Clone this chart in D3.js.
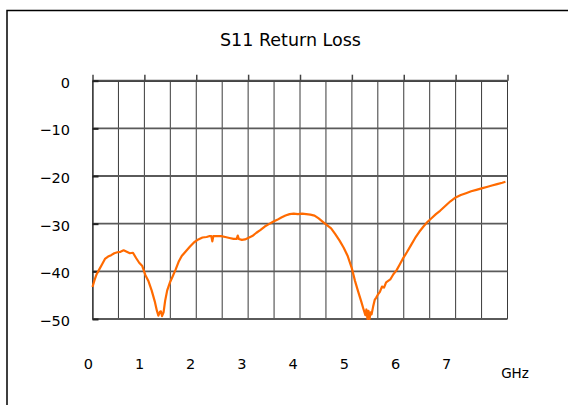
<!DOCTYPE html>
<html>
<head>
<meta charset="utf-8">
<script src="https://cdn.jsdelivr.net/npm/d3@7"></script>
<style>
  html, body { margin: 0; padding: 0; background: #fff; }
  svg { display: block; }
  text { font-family: "DejaVu Sans", "Liberation Sans", sans-serif; fill: #000; }
</style>
</head>
<body>
<svg id="chart" width="568" height="405"></svg>
<script>
const chartTitle = "S11 Return Loss";
const xUnit = "GHz";
const xTickValues = [0, 1, 2, 3, 4, 5, 6, 7, 8];
const xTickLabels = ["0", "1", "2", "3", "4", "5", "6", "7"];
const yTickValues = [0, -10, -20, -30, -40, -50];
const yTickLabels = ["0", "\u221210", "\u221220", "\u221230", "\u221240", "\u221250"];

const freqGHz = [0, 0.04, 0.08, 0.12, 0.18, 0.24, 0.3, 0.36, 0.42, 0.48, 0.54, 0.6, 0.66, 0.72, 0.78, 0.84, 0.9, 0.96,
  1.02, 1.08, 1.14, 1.2, 1.24, 1.27, 1.3, 1.32, 1.34, 1.37, 1.4, 1.44, 1.49, 1.54, 1.6, 1.66, 1.72, 1.8, 1.88, 1.96,
  2.04, 2.12, 2.2, 2.26, 2.29, 2.31, 2.33, 2.4, 2.48, 2.56, 2.64, 2.72, 2.78, 2.8, 2.82, 2.88, 2.94, 3.0,
  3.08, 3.16, 3.24, 3.32, 3.4, 3.48, 3.56, 3.64, 3.72, 3.8, 3.88, 3.96, 4.04, 4.12, 4.2, 4.28, 4.36, 4.44,
  4.52, 4.6, 4.68, 4.76, 4.84, 4.92, 5.0, 5.06, 5.12, 5.18, 5.22, 5.26, 5.28, 5.3, 5.32, 5.34, 5.36, 5.38,
  5.41, 5.44, 5.47, 5.5, 5.54, 5.58, 5.62, 5.66, 5.7, 5.74, 5.8, 5.86, 5.92, 5.98, 6.06, 6.14, 6.22, 6.3,
  6.38, 6.46, 6.54, 6.62, 6.7, 6.8, 6.9, 7.0, 7.1, 7.2, 7.3, 7.4, 7.5, 7.6, 7.7, 7.8, 7.9, 7.96];

const returnLossDb = [-43.3, -41.8, -40.6, -39.8, -38.6, -37.4, -36.9, -36.6, -36.2, -36.0, -35.9, -35.6, -35.9, -36.2, -36.1, -37.2, -38.2, -38.9,
  -40.8, -42.1, -44.0, -46.3, -48.2, -49.3, -48.5, -48.4, -49.4, -48.6, -46.2, -44.0, -42.4, -41.2, -39.7, -38.0, -36.8, -35.8, -34.8, -33.9,
  -33.3, -32.9, -32.8, -32.6, -32.6, -33.7, -32.6, -32.6, -32.6, -32.8, -33.0, -33.2, -33.2, -32.5, -33.2, -33.4, -33.3, -33.0,
  -32.6, -31.9, -31.3, -30.6, -30.1, -29.6, -29.2, -28.7, -28.3, -28.0, -27.9, -28.0, -27.9, -28.0, -28.1, -28.3, -28.9, -29.6,
  -30.3, -31.0, -32.2, -33.5, -35.0, -36.8, -39.4, -42.0, -44.2, -46.3, -47.8, -49.2, -48.0, -50.0, -48.3, -50.0, -48.6, -49.0,
  -47.4, -46.0, -45.5, -44.9, -44.3, -43.2, -43.4, -42.3, -42.0, -41.7, -40.6, -39.8, -38.6, -37.4, -36.0, -34.5, -33.0, -31.7,
  -30.6, -29.6, -28.8, -28.0, -27.3, -26.3, -25.3, -24.5, -24.0, -23.6, -23.2, -22.9, -22.6, -22.3, -22.0, -21.7, -21.4, -21.2];

const svg = d3.select("#chart");

// outer frame (extends beyond the visible window on right/bottom)
svg.append("rect")
  .attr("x", 7).attr("y", 10.5).attr("width", 640).attr("height", 500)
  .attr("fill", "none").attr("stroke", "#000").attr("stroke-width", 1.5);

const plot = { left: 92.5, right: 507.5, top: 80.7, bottom: 319 };
const x = d3.scaleLinear().domain([0, 8]).range([plot.left, plot.right]);
const y = d3.scaleLinear().domain([-50, 0]).range([plot.bottom, plot.top]);
// category-style label positions (labels sit slightly left of the gridlines)
const xLab = d3.scaleLinear().domain([0, 7]).range([88.3, 446.7]);

// vertical gridlines every 0.5 GHz
svg.append("g").selectAll("line")
  .data(d3.range(0, 8.01, 0.5))
  .join("line")
  .attr("x1", d => x(d)).attr("x2", d => x(d))
  .attr("y1", plot.top).attr("y2", plot.bottom)
  .attr("stroke", "#3a3a3a").attr("stroke-width", 1);

// horizontal gridlines
svg.append("g").selectAll("line")
  .data(yTickValues)
  .join("line")
  .attr("x1", plot.left).attr("x2", plot.right)
  .attr("y1", d => y(d)).attr("y2", d => y(d))
  .attr("stroke", "#5a5a5a").attr("stroke-width", 1.8);

// top axis with outward ticks
const topAxis = svg.append("g")
  .attr("transform", `translate(0,${plot.top})`)
  .call(d3.axisTop(x).tickValues(xTickValues).tickSize(6).tickSizeOuter(0).tickFormat(""));
topAxis.select(".domain").attr("stroke", "#444").attr("stroke-width", 1.5);
topAxis.selectAll(".tick line").attr("stroke", "#444").attr("stroke-width", 1.5);

// left axis with inward ticks
const leftAxis = svg.append("g")
  .attr("transform", `translate(${plot.left},0)`)
  .call(d3.axisRight(y).tickValues(yTickValues).tickSize(6).tickSizeOuter(0).tickFormat(""));
leftAxis.select(".domain").attr("stroke", "#444").attr("stroke-width", 1.5);
leftAxis.selectAll(".tick line").attr("stroke", "#222").attr("stroke-width", 2);

// y labels
svg.append("g").selectAll("text")
  .data(yTickValues)
  .join("text")
  .attr("x", 70)
  .attr("y", d => y(d) + 2)
  .attr("text-anchor", "end")
  .attr("dominant-baseline", "central")
  .attr("font-size", 14.5)
  .text((d, i) => yTickLabels[i]);

// x labels
svg.append("g").selectAll("text")
  .data(xTickLabels)
  .join("text")
  .attr("x", (d, i) => xLab(i))
  .attr("y", 363.5)
  .attr("text-anchor", "middle")
  .attr("dominant-baseline", "central")
  .attr("font-size", 14.5)
  .text(d => d);

svg.append("text")
  .attr("x", 515).attr("y", 372.5)
  .attr("text-anchor", "middle")
  .attr("dominant-baseline", "central")
  .attr("font-size", 13.5)
  .text(xUnit);

// title
svg.append("text")
  .attr("x", 290.5).attr("y", 46)
  .attr("text-anchor", "middle")
  .attr("font-size", 17.5)
  .text(chartTitle);

// data line
const data = freqGHz.map((f, i) => ({ f, v: returnLossDb[i] }));
svg.append("path")
  .datum(data)
  .attr("fill", "none")
  .attr("stroke", "#ff6a00")
  .attr("stroke-width", 2.2)
  .attr("stroke-linejoin", "round")
  .attr("d", d3.line().x(d => x(d.f)).y(d => y(d.v)));
</script>
</body>
</html>
